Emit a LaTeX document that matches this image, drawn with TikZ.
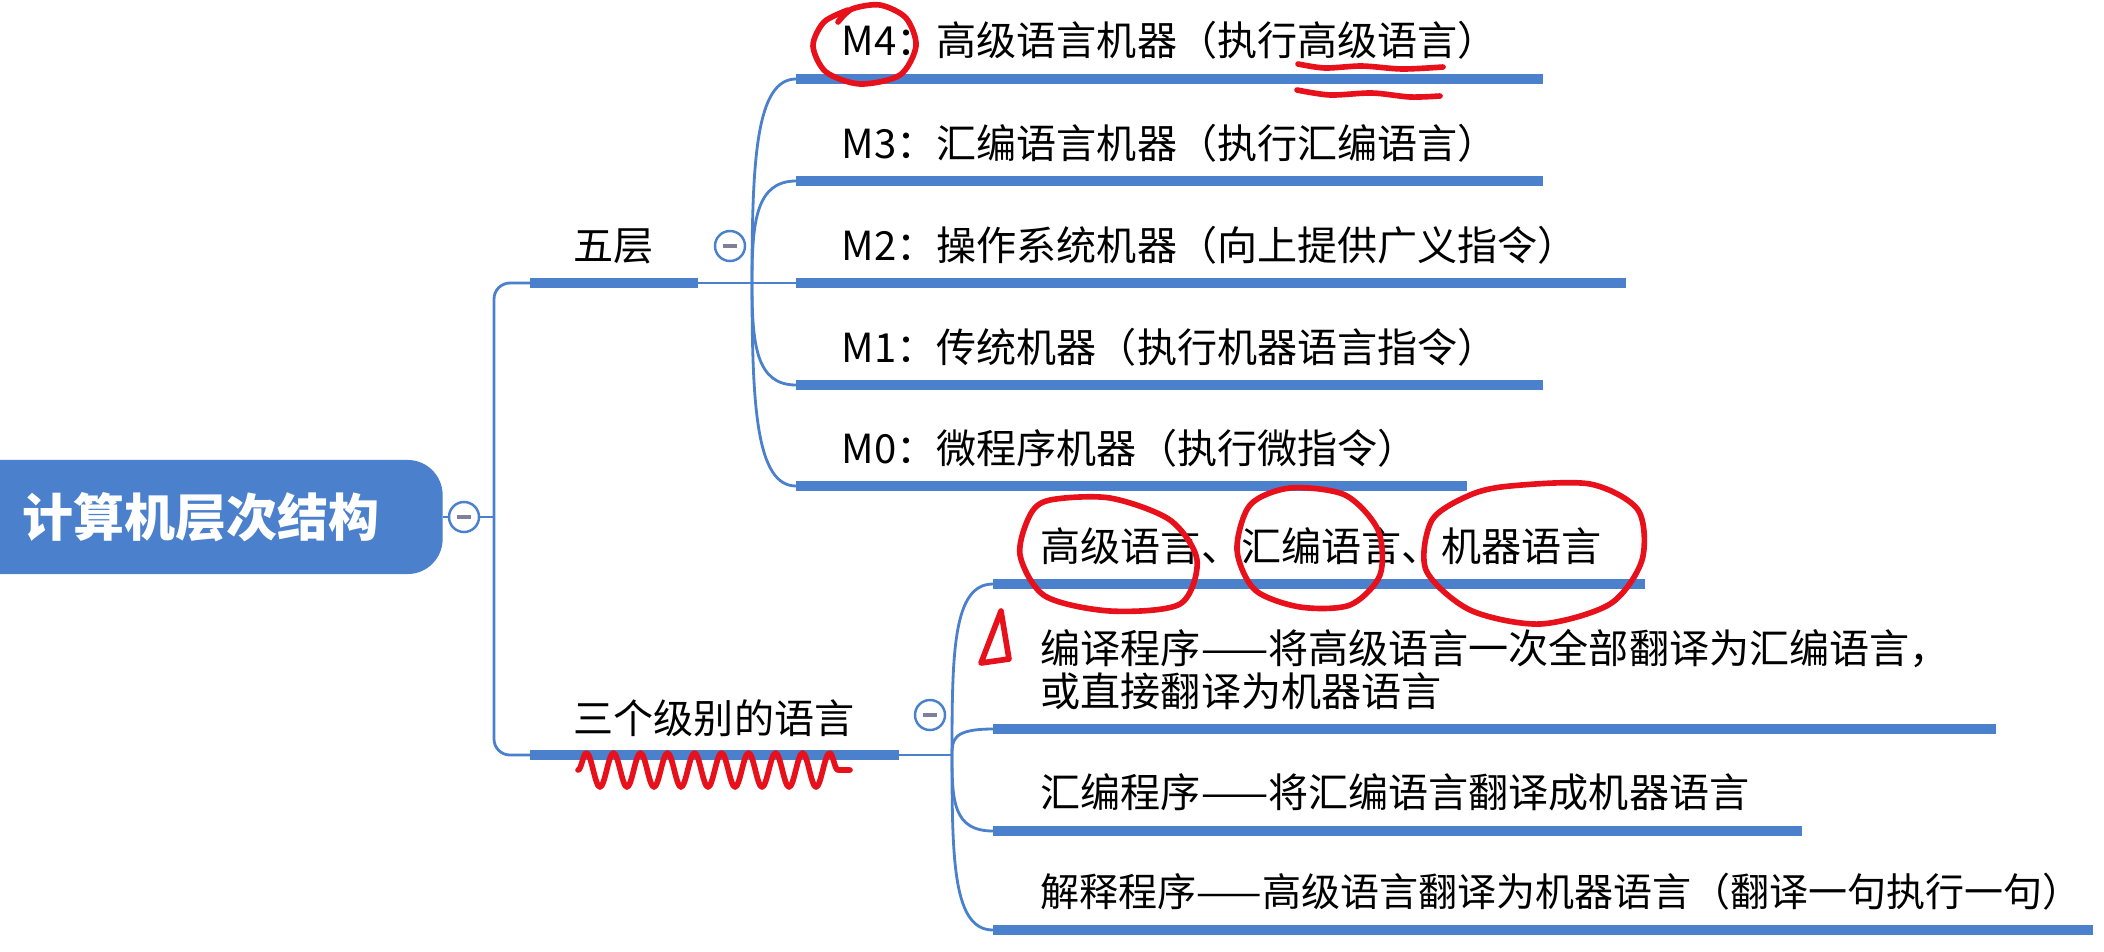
\documentclass[tikz,border=0pt]{standalone}
\usepackage{fontspec}
\setmainfont{Noto Sans CJK SC}
\usetikzlibrary{decorations.pathmorphing}
\definecolor{mapblue}{HTML}{4A80CC}
\definecolor{inkred}{HTML}{E8101A}
\definecolor{foldgray}{HTML}{7F7F9C}

\begin{document}
\begin{tikzpicture}[
        x=0.01cm, y=-0.01cm,
        root/.style={rectangle, fill=mapblue, rounded corners=0.35cm, minimum width=4.83cm, minimum height=1.14cm, text=white, font=\fontsize{14.5pt}{17pt}\selectfont\bfseries},
        topic/.style={anchor=west, inner sep=0pt, align=left, font=\fontsize{11.4pt}{12.2pt}\selectfont},
        fold/.style={circle, draw=mapblue, line width=0.7pt, fill=white, minimum size=0.3cm, inner sep=0pt,
            path picture={\draw[foldgray, line width=1pt] ([xshift=-0.07cm]path picture bounding box.center) -- ([xshift=0.07cm]path picture bounding box.center);}},
        link/.style={draw=mapblue, line width=0.8pt},
        bar/.style={draw=mapblue, line width=2.6pt},
        ink/.style={draw=inkred, line width=1.6pt, line cap=round, line join=round}
    ]
        \useasboundingbox (0,0) rectangle (2104,951);

        % root
        \node[root] (root) at (201,517) {计算机层次结构};
        \node[fold] (f0) at (464,517) {};
        \coordinate (trunk) at (494,517);
        \draw[link] (root.east) -- (f0.west);
        \draw[link] (f0.east) -- (trunk);

        % first branch: five levels
        \coordinate (b5s) at (530,283);
        \coordinate (b5e) at (698,283);
        \coordinate (fan5) at (752,283);
        \draw[link, rounded corners=0.16cm] (trunk) |- (b5s);
        \draw[bar] (b5s) -- (b5e);
        \draw[link] (b5e) -- (fan5);
        \node[topic] (five) at (573,246) {五层};
        \node[fold] (f5) at (730,246) {};

        \foreach \nm/\ty/\xe in {m4/79/1543, m3/181/1543, m2/283/1626, m1/385/1543, m0/486/1467} {
            \coordinate (\nm-s) at (796,\ty);
            \coordinate (\nm-e) at (\xe,\ty);
            \draw[bar] (\nm-s) -- (\nm-e);
        }
        \foreach \nm/\dy in {m4/-204, m3/-102, m1/102, m0/203}
            \draw[link] (fan5) .. controls +(0,{0.6*\dy}) and +(-40,0) .. (\nm-s);
        \draw[link] (fan5) -- (m2-s);

        \node[topic] (m4) at (841,40) {M4：高级语言机器（执行高级语言）};
        \node[topic] (m3) at (841,143) {M3：汇编语言机器（执行汇编语言）};
        \node[topic] (m2) at (841,245) {M2：操作系统机器（向上提供广义指令）};
        \node[topic] (m1) at (841,347) {M1：传统机器（执行机器语言指令）};
        \node[topic] (m0) at (841,448) {M0：微程序机器（执行微指令）};

        % second branch: three levels of language
        \coordinate (b3s) at (530,755);
        \coordinate (b3e) at (899,755);
        \coordinate (fan3) at (952,755);
        \draw[link, rounded corners=0.16cm] (trunk) |- (b3s);
        \draw[bar] (b3s) -- (b3e);
        \draw[link] (b3e) -- (fan3);
        \node[topic] (three) at (573,718) {三个级别的语言};
        \node[fold] (f3) at (930,715) {};

        \foreach \nm/\ty/\xe in {l1/584/1645, l2/729/1996, l3/831/1802, l4/930/2093} {
            \coordinate (\nm-s) at (993,\ty);
            \coordinate (\nm-e) at (\xe,\ty);
            \draw[bar] (\nm-s) -- (\nm-e);
        }
        \foreach \nm/\dy in {l1/-171, l2/-26, l3/76, l4/175}
            \draw[link] (fan3) .. controls +(0,{0.6*\dy}) and +(-40,0) .. (\nm-s);

        \node[topic] (l1) at (1040,546) {高级语言、汇编语言、机器语言};
        \node[topic] (l2) at (1040,670) {编译程序——将高级语言一次全部翻译为汇编语言，\\或直接翻译为机器语言};
        \node[topic] (l3) at (1040,792) {汇编程序——将汇编语言翻译成机器语言};
        \node[topic, font=\fontsize{11.1pt}{12.2pt}\selectfont] (l4) at (1040,892) {解释程序——高级语言翻译为机器语言（翻译一句执行一句）};

        % red pen marks
        \draw[ink] plot[smooth] coordinates {(848,10) (824,22) (813,46) (826,72) (860,84) (900,75) (916,46) (906,18) (880,5) (852,9) (838,22)};
        \draw[ink] plot[smooth] coordinates {(1298,64) (1325,68) (1362,66) (1402,69) (1443,67)};
        \draw[ink] plot[smooth] coordinates {(1297,90) (1330,95) (1372,93) (1410,97) (1440,96)};
        \draw[ink] plot[smooth cycle] coordinates {(1050,500) (1110,498) (1170,520) (1197,560) (1180,604) (1110,611) (1045,596) (1020,555) (1030,515)};
        \draw[ink] plot[smooth cycle] coordinates {(1290,488) (1345,495) (1378,530) (1380,575) (1350,605) (1300,607) (1255,590) (1237,550) (1250,505)};
        \draw[ink] plot[smooth cycle] coordinates {(1510,486) (1590,484) (1638,510) (1642,560) (1610,604) (1540,624) (1470,610) (1426,570) (1432,520) (1470,495)};
        \draw[ink] (1001,611) -- (981,663) -- (1009,659) -- cycle;
        \draw[ink, decorate, decoration={snake, segment length=0.27cm, amplitude=0.17cm}] (578,770) -- (850,770);
\end{tikzpicture}
\end{document}
